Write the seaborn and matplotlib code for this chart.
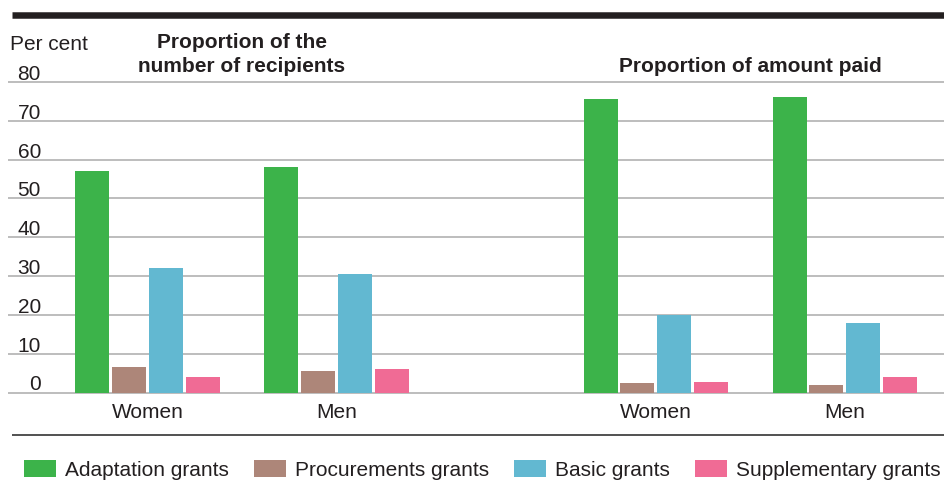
import matplotlib
matplotlib.use("Agg")
import matplotlib.pyplot as plt
from matplotlib.lines import Line2D
import pandas as pd
import seaborn as sns

# ---- data -------------------------------------------------------------
grant_types = ["Adaptation grants", "Procurements grants",
               "Basic grants", "Supplementary grants"]
groups = ["Women", "Men"]
panel_titles = ["Proportion of the\nnumber of recipients",
                "Proportion of amount paid"]

recipients_women = [57.0, 6.5, 32.0, 4.0]
recipients_men = [58.0, 5.5, 30.5, 6.0]
amount_women = [75.5, 2.4, 20.0, 2.7]
amount_men = [76.2, 2.0, 18.0, 4.0]

y_ticks = [0, 10, 20, 30, 40, 50, 60, 70, 80]
y_label = "Per cent"

colors = ["#3cb34a", "#ad8679", "#62b8d1", "#f06b95"]

# ---- layout -----------------------------------------------------------
W, H = 945, 500
PANEL_OFFSET = 2.69          # distance between the two panels, in group units

panel_values = [[recipients_women, recipients_men],
                [amount_women, amount_men]]
rows = []
for p, pair in enumerate(panel_values):
    for g, vals in enumerate(pair):
        for grant, v in zip(grant_types, vals):
            rows.append({"pos": g + p * PANEL_OFFSET, "group": groups[g],
                         "grant": grant, "value": v})
df = pd.DataFrame(rows)

plt.rcParams["font.family"] = ["Liberation Sans", "DejaVu Sans"]
plt.rcParams["font.size"] = 15
TEXT = "#231f20"

fig = plt.figure(figsize=(W / 100, H / 100), dpi=100)

px_per_unit = (392.5 - 82.0) / 80.0
y0_px, y80_px = 392.5 + 0.5 * px_per_unit, 82.0 - 0.5 * px_per_unit
ax = fig.add_axes([8 / W, 1 - y0_px / H, 1 - 8 / W, (y0_px - y80_px) / H])

sns.barplot(data=df, x="pos", y="value", hue="grant", hue_order=grant_types,
            palette=dict(zip(grant_types, colors)), native_scale=True,
            width=0.78, gap=0.08, saturation=1, linewidth=0, ax=ax)

ax.set_ylim(-0.5, 80.5)
ax.set_xlim(-0.738, 4.22)
ax.set_yticks(y_ticks)
ax.set_yticklabels([])
ax.grid(axis="y", color="#ababab", linewidth=1.1)
ax.grid(axis="x", visible=False)
ax.set_axisbelow(True)
for s in ax.spines.values():
    s.set_visible(False)
ax.tick_params(axis="both", length=0)
ax.set_facecolor("white")
ax.set_xlabel("")
ax.set_ylabel("")

positions = sorted(df["pos"].unique())
ax.set_xticks(positions)
ax.set_xticklabels([df.loc[df["pos"] == p, "group"].iloc[0] for p in positions],
                   color=TEXT, fontsize=15)
ax.tick_params(axis="x", pad=6)

# y tick labels sit just above their gridlines
for t in y_ticks:
    ax.annotate(str(t), xy=(41 / W, t), xycoords=("figure fraction", "data"),
                xytext=(0, 1.5), textcoords="offset points",
                ha="right", va="baseline", color=TEXT, fontsize=15)

handles, labels = ax.get_legend_handles_labels()
ax.get_legend().remove()

# panel titles, bottoms aligned
centers = [0.5, 0.5 + PANEL_OFFSET]
for c, title in zip(centers, panel_titles):
    ax.annotate(title, xy=(c, 1 - 75.5 / H), xycoords=("data", "figure fraction"),
                ha="center", va="bottom", fontweight="bold", color=TEXT,
                fontsize=15, linespacing=1.3, annotation_clip=False)

fig.text(10 / W, 1 - 50 / H, y_label, ha="left", va="baseline",
         color=TEXT, fontsize=15)

# rules at top and bottom
fig.add_artist(Line2D([12 / W, 1], [1 - 14.5 / H] * 2, color="#231f20",
                      linewidth=6.5 * 0.72, solid_capstyle="butt"))
fig.add_artist(Line2D([12 / W, 1], [1 - 435 / H] * 2, color="#555555",
                      linewidth=2 * 0.72, solid_capstyle="butt"))

fig.legend(handles, labels, loc="center left",
           bbox_to_anchor=(24 / W, 1 - 470 / H), ncol=4, frameon=False,
           borderpad=0, borderaxespad=0, handlelength=1.54, handleheight=0.91,
           handletextpad=0.43, columnspacing=1.2, fontsize=15,
           labelcolor=TEXT)

fig.savefig("out.png", dpi=100, facecolor="white")
